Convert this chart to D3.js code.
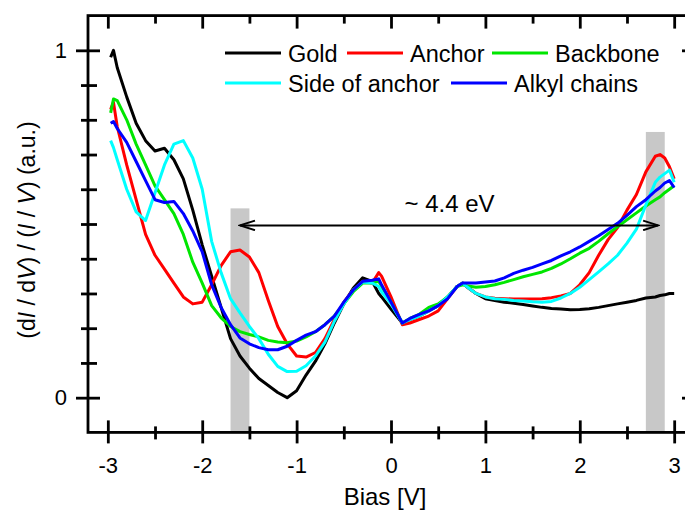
<!DOCTYPE html>
<html>
<head>
<meta charset="utf-8">
<script src="https://cdn.jsdelivr.net/npm/d3@7"></script>
<style>
html,body{margin:0;padding:0;background:#fff;}
svg{display:block;font-family:"Liberation Sans",Arial,sans-serif;}
</style>
</head>
<body>
<svg id="chart" width="685" height="512"></svg>
<script>
// ---- data ----
const bias = [-2.97,-2.94,-2.9,-2.8,-2.7,-2.6,-2.5,-2.4,-2.3,-2.2,-2.1,-2.0,-1.9,-1.8,-1.7,-1.6,-1.5,-1.4,-1.3,-1.2,-1.1,-1.0,-0.9,-0.8,-0.7,-0.6,-0.5,-0.4,-0.3,-0.2,-0.13,-0.1,0.0,0.12,0.2,0.3,0.4,0.5,0.6,0.7,0.76,0.8,0.9,1.0,1.1,1.2,1.3,1.4,1.5,1.6,1.7,1.8,1.9,2.0,2.1,2.2,2.3,2.4,2.5,2.6,2.7,2.8,2.85,2.9,2.95,3.0];

const gold = [0.98,1.00,0.95,0.866,0.79,0.74,0.71,0.718,0.685,0.63,0.54,0.44,0.35,0.26,0.17,0.12,0.085,0.055,0.035,0.015,0.0,0.02,0.065,0.105,0.155,0.215,0.27,0.315,0.345,0.335,0.30,0.29,0.255,0.215,0.225,0.235,0.25,0.265,0.29,0.32,0.33,0.32,0.30,0.285,0.28,0.275,0.272,0.268,0.264,0.26,0.257,0.255,0.253,0.254,0.256,0.26,0.265,0.27,0.275,0.28,0.287,0.29,0.294,0.296,0.30,0.30];

const anchor = [0.83,0.85,0.78,0.67,0.57,0.47,0.41,0.37,0.33,0.29,0.27,0.275,0.325,0.38,0.42,0.425,0.405,0.36,0.28,0.205,0.155,0.12,0.117,0.13,0.17,0.225,0.275,0.31,0.335,0.33,0.36,0.35,0.29,0.21,0.215,0.225,0.235,0.25,0.285,0.32,0.33,0.32,0.30,0.29,0.286,0.285,0.284,0.284,0.284,0.285,0.288,0.293,0.30,0.325,0.36,0.41,0.455,0.49,0.54,0.585,0.65,0.695,0.70,0.69,0.665,0.63];

const backbone = [0.82,0.86,0.855,0.80,0.73,0.67,0.61,0.57,0.53,0.47,0.39,0.33,0.265,0.23,0.205,0.19,0.182,0.175,0.165,0.16,0.158,0.163,0.175,0.19,0.21,0.235,0.27,0.305,0.33,0.33,0.335,0.32,0.275,0.215,0.228,0.24,0.26,0.27,0.29,0.32,0.325,0.322,0.318,0.32,0.325,0.332,0.34,0.348,0.355,0.362,0.372,0.385,0.40,0.416,0.43,0.45,0.472,0.492,0.512,0.532,0.552,0.57,0.578,0.59,0.60,0.61];

const sideOfAnchor = [0.74,0.72,0.685,0.60,0.535,0.51,0.59,0.67,0.73,0.74,0.69,0.60,0.45,0.36,0.285,0.244,0.205,0.17,0.125,0.09,0.075,0.076,0.092,0.12,0.16,0.22,0.27,0.31,0.333,0.33,0.32,0.305,0.27,0.215,0.225,0.235,0.25,0.265,0.29,0.32,0.33,0.32,0.30,0.29,0.285,0.283,0.28,0.278,0.276,0.275,0.277,0.287,0.30,0.318,0.34,0.362,0.385,0.41,0.445,0.485,0.555,0.62,0.635,0.645,0.655,0.62];

const alkylChains = [0.79,0.795,0.775,0.735,0.68,0.625,0.57,0.562,0.565,0.53,0.48,0.42,0.325,0.26,0.21,0.172,0.155,0.144,0.138,0.138,0.148,0.165,0.18,0.19,0.21,0.235,0.275,0.31,0.335,0.338,0.342,0.325,0.275,0.215,0.228,0.24,0.25,0.265,0.285,0.32,0.33,0.33,0.33,0.333,0.336,0.345,0.358,0.367,0.375,0.385,0.395,0.408,0.42,0.434,0.45,0.466,0.484,0.502,0.525,0.55,0.57,0.595,0.605,0.618,0.625,0.605];

const seriesNames = ["Gold","Anchor","Backbone","Side of anchor","Alkyl chains"];
const seriesColors = ["#000000","#ff0000","#00e600","#00ffff","#0000ff"];
const seriesValues = [gold, anchor, backbone, sideOfAnchor, alkylChains];

const xMajorTicks = [-3,-2,-1,0,1,2,3];
const xMinorTicks = [-2.5,-1.5,-0.5,0.5,1.5,2.5];
const yMajorTicks = [0,1];
const yMinorTicks = [0.1,0.2,0.3,0.4,0.5,0.6,0.7,0.8,0.9];

const bands = [[-1.7,-1.5,0.545],[2.7,2.9,0.765]]; // [x0, x1, top]
const gapArrow = {x0:-1.6, x1:2.83, y:0.496, label:"~ 4.4 eV"};

// ---- layout ----
const svg = d3.select("#chart");
const x = d3.scaleLinear().domain([-3.21,3.21]).range([88,694]);
const y = d3.scaleLinear().domain([-0.1,1.1]).range([432.4,15.6]);
const fmt = d => String(d);

// bands
svg.append("g").selectAll("rect").data(bands).join("rect")
  .attr("x", d=>x(d[0])).attr("width", d=>x(d[1])-x(d[0]))
  .attr("y", d=>y(d[2])).attr("height", d=>y(-0.1)-y(d[2]))
  .attr("fill","#c8c8c8");

// lines
const line = d3.line().x((d,i)=>x(bias[i])).y(d=>y(d));
svg.append("g").selectAll("path").data(seriesValues).join("path")
  .attr("d", d=>line(d))
  .attr("fill","none")
  .attr("stroke",(d,i)=>seriesColors[i])
  .attr("stroke-width",3)
  .attr("stroke-linejoin","round");

// arrow
const defs = svg.append("defs");
defs.append("marker").attr("id","arr").attr("viewBox","-16 -6 18 12")
  .attr("refX",0).attr("refY",0).attr("markerWidth",18).attr("markerHeight",12)
  .attr("markerUnits","userSpaceOnUse").attr("orient","auto-start-reverse")
  .append("path").attr("d","M-15,-4.8 L0,0 L-15,4.8").attr("fill","none")
  .attr("stroke","#000").attr("stroke-width",2);
svg.append("line")
  .attr("x1",x(gapArrow.x0)).attr("x2",x(gapArrow.x1))
  .attr("y1",y(gapArrow.y)).attr("y2",y(gapArrow.y))
  .attr("stroke","#000").attr("stroke-width",2)
  .attr("marker-start","url(#arr)").attr("marker-end","url(#arr)");
svg.append("text").attr("x",x(0.62)).attr("y",y(gapArrow.y)-13)
  .attr("text-anchor","middle").attr("font-size",24).text(gapArrow.label);

// axes
const axW = 2.8;
const gb = svg.append("g").attr("transform",`translate(0,${y(-0.1)})`)
  .call(d3.axisBottom(x).tickValues(xMajorTicks).tickSize(11).tickPadding(14).tickFormat(fmt));
gb.select(".domain").remove();
gb.selectAll(".tick line").attr("y1",-12).attr("y2",11).attr("stroke-width",axW);
gb.selectAll(".tick text").attr("font-size",22).attr("fill","#000").attr("font-family","Liberation Sans, Arial, sans-serif");
const gbm = svg.append("g").attr("transform",`translate(0,${y(-0.1)})`)
  .call(d3.axisBottom(x).tickValues(xMinorTicks).tickSize(7).tickFormat(""));
gbm.select(".domain").remove();
gbm.selectAll(".tick line").attr("y1",-6).attr("y2",7).attr("stroke-width",axW);
const gt = svg.append("g").attr("transform",`translate(0,${y(1.1)})`)
  .call(d3.axisTop(x).tickValues(xMajorTicks).tickSize(-13).tickFormat(""));
gt.select(".domain").remove();
gt.selectAll(".tick line").attr("stroke-width",axW);
const gtm = svg.append("g").attr("transform",`translate(0,${y(1.1)})`)
  .call(d3.axisTop(x).tickValues(xMinorTicks).tickSize(-8).tickFormat(""));
gtm.select(".domain").remove();
gtm.selectAll(".tick line").attr("stroke-width",axW);
const gl = svg.append("g").attr("transform",`translate(${x(-3.21)},0)`)
  .call(d3.axisLeft(y).tickValues(yMajorTicks).tickSize(12).tickPadding(9).tickFormat(fmt));
gl.select(".domain").remove();
gl.selectAll(".tick line").attr("x1",12).attr("x2",-12).attr("stroke-width",axW);
gl.selectAll(".tick text").attr("font-size",22).attr("fill","#000").attr("font-family","Liberation Sans, Arial, sans-serif");
const glm = svg.append("g").attr("transform",`translate(${x(-3.21)},0)`)
  .call(d3.axisLeft(y).tickValues(yMinorTicks).tickSize(7).tickFormat(""));
glm.select(".domain").remove();
glm.selectAll(".tick line").attr("x1",9).attr("x2",-7).attr("stroke-width",axW);
const gr = svg.append("g").attr("transform",`translate(${x(3.21)},0)`)
  .call(d3.axisRight(y).tickValues(yMajorTicks).tickSize(-12).tickFormat(""));
gr.select(".domain").remove();
gr.selectAll(".tick line").attr("stroke-width",axW);
const grm = svg.append("g").attr("transform",`translate(${x(3.21)},0)`)
  .call(d3.axisRight(y).tickValues(yMinorTicks).tickSize(-7).tickFormat(""));
grm.select(".domain").remove();
grm.selectAll(".tick line").attr("stroke-width",axW);

// frame
svg.append("rect").attr("x",x(-3.21)).attr("y",y(1.1))
  .attr("width",x(3.21)-x(-3.21)).attr("height",y(-0.1)-y(1.1))
  .attr("fill","none").attr("stroke","#000").attr("stroke-width",axW);

// axis titles
svg.append("text").attr("x",385).attr("y",505).attr("text-anchor","middle")
  .attr("font-size",24).text("Bias [V]");
const yt = svg.append("text").attr("transform","translate(35,230) rotate(-90)")
  .attr("text-anchor","middle").attr("font-size",23);
yt.append("tspan").text("(d");
yt.append("tspan").attr("font-style","italic").text("I");
yt.append("tspan").text(" / d");
yt.append("tspan").attr("font-style","italic").text("V");
yt.append("tspan").text(") / (");
yt.append("tspan").attr("font-style","italic").text("I");
yt.append("tspan").text(" / ");
yt.append("tspan").attr("font-style","italic").text("V");
yt.append("tspan").text(") (a.u.)");

// legend
const legendPos = [[225,53],[347,53],[492,53],[225,83],[451,83]];
const lg = svg.append("g").selectAll("g").data(seriesNames).join("g")
  .attr("transform",(d,i)=>`translate(${legendPos[i][0]},${legendPos[i][1]})`);
lg.append("line").attr("x1",0).attr("x2",56).attr("stroke",(d,i)=>seriesColors[i]).attr("stroke-width",3);
lg.append("text").attr("x",63).attr("y",8.5).attr("font-size",23.5).text(d=>d);
</script>
</body>
</html>
